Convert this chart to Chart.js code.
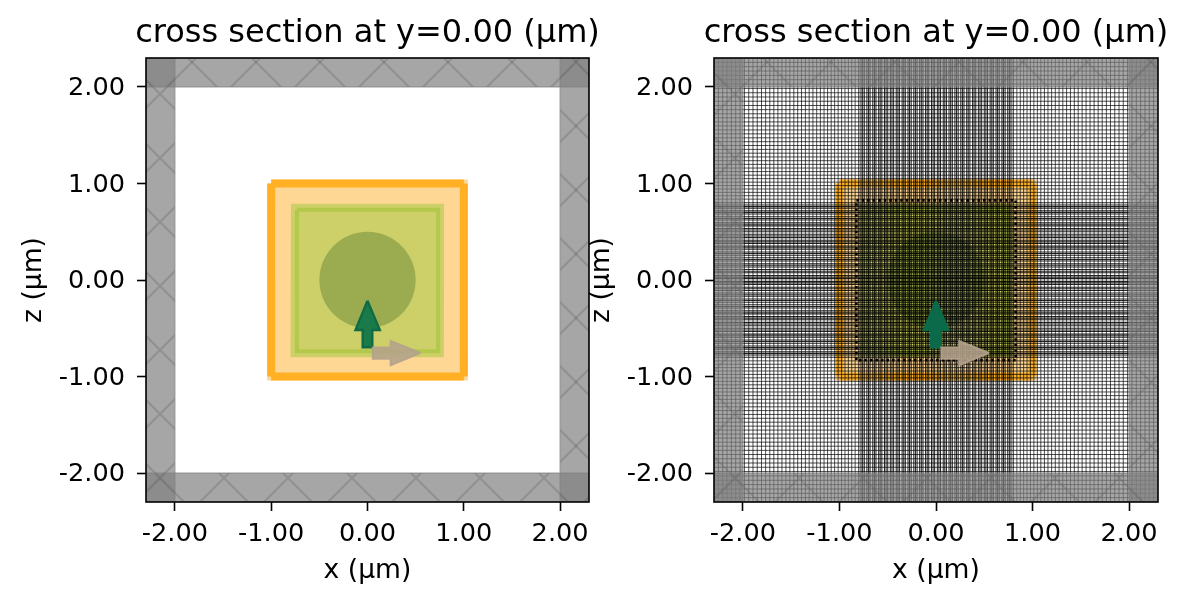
<!DOCTYPE html>
<html lang="en">
<head>
<meta charset="UTF-8">
<title>cross section</title>
<script src="https://cdn.jsdelivr.net/npm/chart.js"></script>
<style>
  html, body { margin: 0; padding: 0; background: #fff; overflow: hidden; width: 1187px; height: 605px; }
  canvas { position: absolute; top: 0; }
  #leftChart { left: 0; }
  #rightChart { left: 575px; }
</style>
</head>
<body>
<canvas id="leftChart"></canvas>
<canvas id="rightChart"></canvas>
<script>
// values in um
const tickValues = [-2, -1, 0, 1, 2]
const tickLabels = ['-2.00', '-1.00', '0.00', '1.00', '2.00']
const axisMin = -2.3
const axisMax = 2.3

// boxes: x0, x1, z0, z1
const pmlLeft = [-2.3, -2.0, -2.3, 2.3]
const pmlRight = [2.0, 2.3, -2.3, 2.3]
const pmlTop = [-2.3, 2.3, 2.0, 2.3]
const pmlBottom = [-2.3, 2.3, -2.3, -2.0]
const outerBox = [-1.0, 1.0, -1.0, 1.0]
const innerBox = [-0.795, 0.795, -0.8, 0.79]
const innerEdge = [-0.733, 0.733, -0.738, 0.728]
const overrideBox = [-0.825, 0.825, -0.83, 0.825]

const circleX = [0]
const circleZ = [0]
const circleRadius = 0.5

const arrowUpX = [0, 0.128, 0.05, 0.05, -0.05, -0.05, -0.125, 0]
const arrowUpZ = [-0.215, -0.518, -0.518, -0.697, -0.697, -0.518, -0.518, -0.215]
const arrowRightX = [0.55, 0.24, 0.24, 0.055, 0.055, 0.24, 0.24, 0.55]
const arrowRightZ = [-0.756, -0.632, -0.7, -0.7, -0.817, -0.817, -0.884, -0.756]

// mesh lines, positive halves (the mesh is mirrored around 0)
const meshDense = [
  0.014, 0.030, 0.047, 0.075, 0.091, 0.108, 0.135, 0.152, 0.169, 0.196, 0.213, 0.230,
  0.257, 0.274, 0.290, 0.318, 0.334, 0.351, 0.379, 0.395, 0.412, 0.439, 0.456, 0.473,
  0.500, 0.517, 0.534, 0.561, 0.578, 0.594, 0.622, 0.638, 0.655, 0.683, 0.699, 0.716,
  0.743, 0.760, 0.777, 0.800
]
const meshSide = [
  0.838, 0.873, 0.908, 0.943, 0.978, 1.014, 1.050, 1.086, 1.123, 1.160, 1.198, 1.236, 1.275,
  1.314, 1.353, 1.393, 1.433, 1.473, 1.514, 1.555, 1.596, 1.638, 1.680, 1.722, 1.765, 1.808,
  1.852, 1.896, 1.940, 1.985, 2.030, 2.075, 2.120, 2.165, 2.210, 2.255
]

const FONT = '"DejaVu Sans"'

function mirrored(list) {
  return [...list, ...list.map(v => -v)]
}

function boxPoints(b) {
  return [
    { x: b[0], y: b[3] }, { x: b[1], y: b[3] }, { x: b[1], y: b[2] },
    { x: b[0], y: b[2] }, { x: b[0], y: b[3] }
  ]
}

function zipPoints(xs, zs) {
  return xs.map((x, i) => ({ x: x, y: zs[i] }))
}

// the four edges as separate butt ended strokes
function boxEdges(b) {
  const gap = { x: NaN, y: NaN }
  return [
    { x: b[0], y: b[3] }, { x: b[1], y: b[3] }, gap,
    { x: b[0], y: b[2] }, { x: b[1], y: b[2] }, gap,
    { x: b[0], y: b[2] }, { x: b[0], y: b[3] }, gap,
    { x: b[1], y: b[2] }, { x: b[1], y: b[3] }
  ]
}

function verticalLines(list) {
  const out = []
  list.forEach(v => out.push({ x: v, y: axisMin }, { x: v, y: axisMax }, { x: NaN, y: NaN }))
  return out
}

function horizontalLines(list) {
  const out = []
  list.forEach(v => out.push({ x: axisMin, y: v }, { x: axisMax, y: v }, { x: NaN, y: NaN }))
  return out
}

// hatch of the absorbing layers
function makeHatch() {
  const tile = document.createElement('canvas')
  tile.width = 64
  tile.height = 64
  const c = tile.getContext('2d')
  c.fillStyle = 'rgba(128,128,128,0.7)'
  c.fillRect(0, 0, 64, 64)
  c.strokeStyle = 'rgba(100,100,100,0.32)'
  c.lineWidth = 2.2
  for (let k = -64; k <= 64; k += 64) {
    c.beginPath()
    c.moveTo(k - 4, -6)
    c.lineTo(k + 70, 68)
    c.moveTo(k + 70, -8)
    c.lineTo(k - 6, 68)
    c.stroke()
  }
  return c.createPattern(tile, 'repeat')
}

function shape(data, fillColor, lineColor, width) {
  return {
    type: 'scatter', data: data, showLine: true, pointRadius: 0, clip: 0, tension: 0.00001,
    fill: fillColor ? 'shape' : false,
    backgroundColor: fillColor || 'transparent',
    borderColor: lineColor || 'transparent',
    borderWidth: lineColor ? width : 0,
    borderJoinStyle: 'miter', borderCapStyle: 'butt', spanGaps: false
  }
}

function structures() {
  return [
    shape(boxPoints(outerBox), '#ffd794', '#ffd794', 8),
    shape(boxEdges(outerBox), null, '#ffb024', 8),
    shape(boxPoints(innerBox), '#cdd068', null, 0),
    shape(boxPoints(innerEdge), null, '#b4c84c', 4),
    {
      type: 'scatter', data: zipPoints(circleX, circleZ), showLine: false, clip: 0,
      pointBackgroundColor: '#9bac50', pointBorderWidth: 0,
      pointRadius: ctx => {
        const s = ctx.chart.scales.x
        return s.getPixelForValue(circleRadius) - s.getPixelForValue(0)
      }
    }
  ]
}

function pmlLayers(hatch) {
  const edge = 'rgba(128,128,128,0.4)'
  return [pmlLeft, pmlRight, pmlTop, pmlBottom].map(b => shape(boxPoints(b), hatch, edge, 2))
}

function arrows(upFill, upLine) {
  return [
    shape(zipPoints(arrowUpX, arrowUpZ), upFill, upLine, 2.4),
    shape(zipPoints(arrowRightX, arrowRightZ), 'rgba(180,162,140,0.88)', 'rgba(180,162,140,0.88)', 2)
  ]
}

const framePlugin = {
  id: 'frame',
  beforeDraw(chart) {
    // tick labels sit a little lower than the canvas "middle" baseline puts them
    chart.scales.y.getLabelItems(chart.chartArea).forEach(item => { item.textOffset += 1.5 })
    // the title is wider than the plot, let it overhang on both sides
    chart.titleBlock.left -= 60
    chart.titleBlock.right += 60
  },
  afterDatasetsDraw(chart) {
    const a = chart.chartArea
    const c = chart.ctx
    c.save()
    c.strokeStyle = '#000'
    c.lineWidth = 1.6
    c.strokeRect(a.left, a.top, a.right - a.left, a.bottom - a.top)
    c.restore()
  }
}

function axis(label, fitKey, fitValue, tickPadding, labelOffset) {
  return {
    type: 'linear', min: axisMin, max: axisMax,
    afterBuildTicks: s => { s.ticks = tickValues.map(v => ({ value: v })) },
    afterFit: s => { s[fitKey] = fitValue },
    grid: { drawOnChartArea: false, drawTicks: true, tickLength: 9, tickWidth: 1.6, tickColor: '#000' },
    border: { display: false },
    ticks: {
      autoSkip: false, maxRotation: 0, color: '#000', padding: tickPadding,
      font: { family: FONT, size: 25.6 },
      callback: (v, i) => tickLabels[i]
    },
    title: {
      display: true, text: label, color: '#000',
      font: { family: FONT, size: 26.6 }, padding: { top: labelOffset, bottom: labelOffset }
    }
  }
}

function drawPanel(id, width, plotLeft, plotRight, datasets) {
  const el = document.getElementById(id)
  el.width = width
  el.height = 605
  datasets.forEach((d, i) => { d.order = datasets.length - i })
  return new Chart(el, {
    type: 'scatter',
    data: { datasets: datasets },
    plugins: [framePlugin],
    options: {
      responsive: false, animation: false, devicePixelRatio: 1, events: [],
      layout: { padding: { left: 0, right: width - plotRight, top: 0, bottom: 0 } },
      plugins: {
        legend: { display: false },
        tooltip: { enabled: false },
        title: {
          display: true, fullSize: false, text: 'cross section at y=0.00 (µm)', color: '#000',
          font: { family: FONT, size: 32, weight: 'normal' },
          padding: { top: 14, bottom: 5.6 }
        }
      },
      scales: {
        x: axis('x (µm)', 'height', 103, 8, 18),
        y: axis('z (µm)', 'width', plotLeft, 12, plotLeft - 128)
      }
    }
  })
}

const hatch = makeHatch()

drawPanel('leftChart', 735, 146, 589, [
  ...structures(),
  ...pmlLayers(hatch),
  ...arrows('#1b7a4a', '#0f6b45')
])

const dotted = shape(boxPoints(overrideBox), null, '#000', 2.6)
dotted.borderDash = [2.5, 3]

const sideColor = 'rgba(0,0,0,0.78)'
const denseColor = 'rgba(0,0,0,0.85)'

drawPanel('rightChart', 722, 139, 583, [
  ...structures(),
  shape(verticalLines(mirrored(meshSide)), null, sideColor, 0.9),
  shape(horizontalLines(mirrored(meshSide)), null, sideColor, 0.9),
  shape(verticalLines(mirrored(meshDense)), null, denseColor, 1.05),
  shape(horizontalLines(mirrored(meshDense)), null, denseColor, 1.05),
  dotted,
  ...pmlLayers(hatch),
  ...arrows('#0b6a4a', '#0b6a4a')
])
</script>
</body>
</html>
